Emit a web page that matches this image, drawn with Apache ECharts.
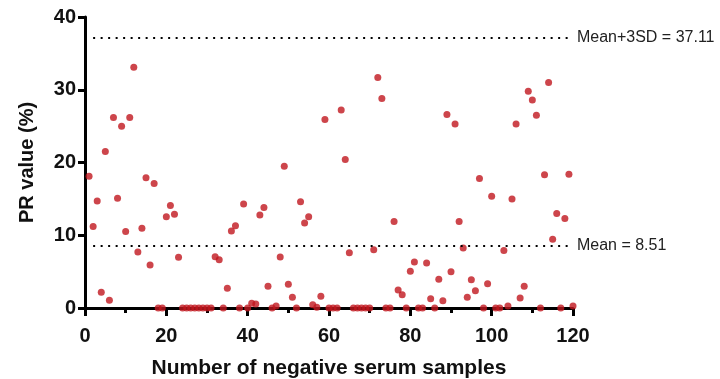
<!DOCTYPE html>
<html>
<head>
<meta charset="utf-8">
<script src="https://cdn.jsdelivr.net/npm/echarts@6/dist/echarts.min.js"></script>
<style>
html, body { margin: 0; padding: 0; background: #fff; }
#chart { width: 720px; height: 379px; }
</style>
</head>
<body>
<div id="chart"></div>
<script>
// PR value of each negative serum sample, sample 1..120
var prValues = [
    18.1, 11.2, 14.7, 2.15, 21.5, 1.05, 26.2, 15.1, 25.0, 10.5,
    26.2, 33.1, 7.7, 10.95, 17.9, 5.9, 17.1, 0, 0, 12.55,
    14.1, 12.9, 6.96, 0, 0, 0, 0, 0, 0, 0,
    0, 7.06, 6.64, 0, 2.7, 10.6, 11.3, 0, 14.3, 0,
    0.64, 0.55, 12.8, 13.8, 3.0, 0, 0.27, 7.0, 19.5, 3.25,
    1.47, 0, 14.6, 11.7, 12.55, 0.46, 0.1, 1.6, 25.9, 0,
    0, 0, 27.2, 20.4, 7.6, 0, 0, 0, 0, 0,
    8.0, 31.7, 28.8, 0, 0, 11.9, 2.47, 1.83, 0, 5.04,
    6.32, 0, 0, 6.2, 1.28, 0, 3.94, 1.0, 26.6, 5.0,
    25.3, 11.9, 8.25, 1.47, 3.9, 2.38, 17.8, 0, 3.34, 15.35,
    0, 0, 7.9, 0.27, 15.0, 25.3, 1.37, 3.0, 29.8, 28.6,
    26.5, 0, 18.3, 31.0, 9.44, 13.0, 0, 12.3, 18.4, 0.27
];
var meanValue = 8.51;
var cutoffValue = 37.11;
var lineSpan = [2, 119];

var points = [];
for (var i = 0; i < prValues.length; i++) {
    points.push([i + 1, prValues[i]]);
}

var axisFont = 'Liberation Sans, Arial, sans-serif';
var refLabel = {
    show: true,
    position: 'end',
    distance: 8,
    color: '#222',
    fontFamily: 'Liberation Sans Narrow, Liberation Sans, sans-serif',
    fontSize: 16
};

var chart = echarts.init(document.getElementById('chart'));
chart.setOption({
    animation: false,
    grid: { left: 85, right: 147, top: 17, bottom: 71, outerBoundsMode: 'none' },
    xAxis: {
        type: 'value',
        min: 0,
        max: 120,
        interval: 20,
        name: 'Number of negative serum samples',
        nameLocation: 'middle',
        nameGap: 50,
        nameTextStyle: { color: '#111', fontFamily: axisFont, fontWeight: 'bold', fontSize: 21 },
        axisLine: { lineStyle: { color: '#000', width: 3 } },
        axisTick: { length: 8, lineStyle: { color: '#000', width: 3 } },
        minorTick: { show: true, splitNumber: 2, length: 5, lineStyle: { color: '#000', width: 3 } },
        axisLabel: { color: '#111', fontFamily: axisFont, fontWeight: 'bold', fontSize: 20, margin: 18 },
        splitLine: { show: false }
    },
    yAxis: {
        type: 'value',
        min: 0,
        max: 40,
        interval: 10,
        name: 'PR value (%)',
        nameLocation: 'middle',
        nameGap: 48,
        nameTextStyle: { color: '#111', fontFamily: axisFont, fontWeight: 'bold', fontSize: 20 },
        axisLine: { show: true, lineStyle: { color: '#000', width: 3 } },
        axisTick: { show: true, length: 7, lineStyle: { color: '#000', width: 3 } },
        axisLabel: { color: '#111', fontFamily: axisFont, fontWeight: 'bold', fontSize: 20, margin: 9 },
        splitLine: { show: false }
    },
    series: [{
        type: 'scatter',
        data: points,
        symbolSize: 7,
        clip: false,
        itemStyle: { color: '#c0161e' },
        markLine: {
            silent: true,
            symbol: 'none',
            lineStyle: { color: '#000', type: [2, 5.5], width: 2 },
            data: [
                [{ coord: [lineSpan[0], cutoffValue], label: Object.assign({ formatter: 'Mean+3SD = 37.11' }, refLabel) },
                 { coord: [lineSpan[1], cutoffValue] }],
                [{ coord: [lineSpan[0], meanValue], label: Object.assign({ formatter: 'Mean = 8.51' }, refLabel) },
                 { coord: [lineSpan[1], meanValue] }]
            ]
        }
    }]
});
</script>
</body>
</html>
